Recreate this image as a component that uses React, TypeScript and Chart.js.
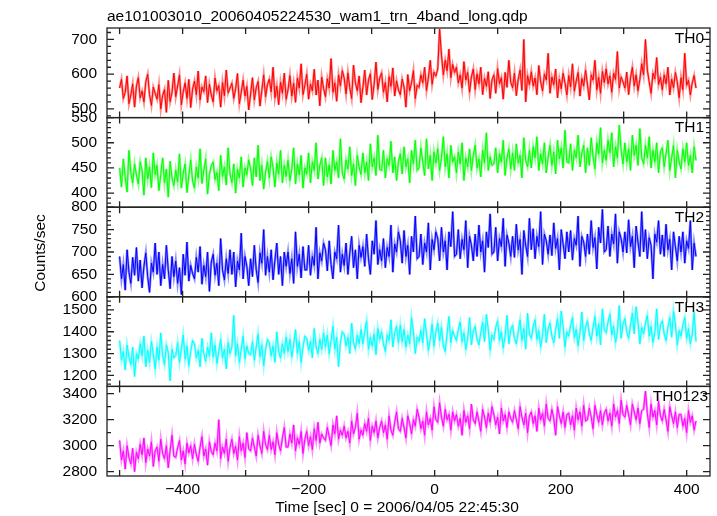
import React, { useEffect, useRef } from "react";
import { Chart, registerables } from "chart.js";

Chart.register(...registerables);

// Time bins (seconds relative to 2006/04/05 22:45:30)
const timeStart = -500;
const timeStep = 2.97;

const TH0 = [
  560, 585, 530, 548, 595, 515, 540, 572, 505, 566,
  590, 532, 551, 520, 578, 600, 541, 510, 563, 545,
  528, 570, 500, 539, 556, 490, 582, 521, 547, 603,
  535, 566, 598, 512, 549, 575, 530, 585, 504, 557,
  580, 541, 609, 526, 563, 550, 595, 518, 571, 540,
  520, 589, 552, 567, 505, 576, 538, 612, 546, 560,
  574, 530, 558, 602, 515, 548, 583, 537, 565, 497,
  543, 590, 526, 561, 579, 508, 553, 598, 535, 570,
  586, 549, 620, 532, 566, 512, 577, 545, 603, 528,
  555, 596, 537, 574, 519, 589, 560, 630, 541, 568,
  600, 528, 571, 552, 614, 540, 583, 509, 592, 559,
  535, 587, 560, 645, 548, 575, 522, 598, 566, 610,
  589, 543, 604, 561, 530, 626, 575, 552, 595, 518,
  562, 612, 540, 583, 601, 527, 570, 635, 556, 589,
  604, 548, 576, 520, 593, 565, 618, 537, 581, 555,
  541, 586, 563, 505, 599, 552, 575, 610, 530, 568,
  562, 598, 575, 620, 553, 589, 640, 571, 606, 595,
  615, 730, 655, 598, 640, 610, 672, 590, 628, 605,
  620, 575, 598, 560, 636, 583, 605, 548, 592, 615,
  556, 601, 572, 620, 541, 588, 565, 607, 530, 584,
  598, 545, 616, 573, 590, 528, 605, 562, 640, 577,
  561, 603, 538, 585, 612, 553, 700, 520, 596, 570,
  607, 566, 589, 541, 625, 578, 552, 600, 583, 660,
  545, 592, 570, 615, 532, 586, 558, 603, 575, 540,
  596, 563, 630, 551, 580, 605, 537, 588, 566, 612,
  570, 526, 598, 583, 640, 555, 591, 545, 608, 576,
  615, 572, 595, 548, 603, 585, 665, 560, 592, 578,
  560, 606, 541, 589, 620, 566, 598, 552, 585, 630,
  598, 700, 612, 578, 545, 603, 587, 648, 570, 592,
  555, 598, 572, 620, 540, 586, 561, 605, 578, 532,
  590, 555, 660, 568, 582, 540, 575, 596, 560,
];

const TH1 = [
  450, 412, 468, 431, 402, 485, 440, 420, 458, 436,
  418, 462, 445, 396, 470, 428, 452, 411, 480, 437,
  455, 405, 437, 470, 420, 448, 392, 463, 430, 415,
  446, 422, 478, 410, 440, 458, 401, 435, 466, 424,
  410, 452, 430, 488, 419, 445, 468, 398, 437, 455,
  462, 427, 441, 405, 475, 433, 452, 416, 490, 438,
  421, 458, 400, 447, 430, 472, 412, 450, 437, 466,
  448, 415, 470, 432, 495, 425, 455, 408, 441, 463,
  430, 472, 451, 412, 460, 438, 485, 420, 455, 433,
  465, 425, 447, 490, 418, 458, 436, 475, 410, 450,
  438, 480, 420, 462, 445, 500, 428, 455, 470, 415,
  470, 432, 456, 418, 485, 445, 462, 430, 508, 440,
  428, 466, 448, 492, 435, 458, 415, 475, 452, 437,
  480, 440, 462, 425, 498, 452, 470, 435, 515, 447,
  445, 485, 430, 468, 455, 503, 440, 472, 425, 462,
  478, 438, 492, 452, 468, 420, 485, 458, 505, 445,
  450, 490, 462, 435, 508, 448, 475, 425, 482, 460,
  488, 445, 470, 512, 452, 478, 430, 495, 462, 472,
  440, 482, 458, 500, 425, 470, 452, 488, 445, 475,
  495, 450, 468, 432, 485, 460, 520, 445, 472, 455,
  458, 490, 440, 478, 462, 505, 435, 470, 488, 448,
  480, 445, 498, 460, 475, 430, 510, 465, 452, 485,
  450, 492, 470, 512, 445, 478, 458, 500, 440, 472,
  495, 455, 482, 438, 505, 468, 490, 450, 525, 462,
  460, 498, 445, 485, 470, 515, 452, 480, 495, 440,
  490, 455, 510, 472, 448, 500, 478, 530, 460, 485,
  465, 505, 480, 520, 452, 492, 470, 535, 485, 458,
  500, 462, 488, 445, 515, 475, 495, 455, 528, 470,
  458, 495, 470, 512, 450, 485, 462, 500, 440, 482,
  490, 452, 478, 505, 445, 470, 495, 430, 485, 462,
  448, 488, 462, 500, 455, 475, 440, 492, 465,
];

const TH2 = [
  690, 640, 672, 615, 705, 655, 630, 688, 648, 710,
  635, 682, 620, 668, 698, 645, 610, 675, 655, 720,
  650, 700, 625, 672, 640, 715, 660, 618, 690, 645,
  680, 630, 665, 605, 695, 648, 722, 635, 670, 652,
  640, 688, 655, 712, 628, 670, 645, 700, 612, 678,
  695, 648, 675, 625, 730, 660, 638, 685, 652, 705,
  650, 700, 622, 680, 660, 742, 640, 690, 668, 625,
  685, 645, 715, 660, 632, 698, 675, 750, 648, 690,
  655, 705, 638, 682, 720, 650, 690, 625, 700, 668,
  700, 652, 685, 630, 745, 668, 695, 642, 712, 660,
  660, 715, 648, 690, 670, 755, 640, 698, 680, 720,
  705, 658, 725, 672, 640, 700, 685, 760, 655, 695,
  670, 720, 650, 698, 735, 665, 705, 640, 715, 688,
  712, 668, 740, 685, 650, 725, 695, 770, 672, 705,
  680, 730, 665, 710, 690, 760, 655, 718, 700, 745,
  725, 675, 748, 690, 715, 650, 735, 700, 780, 685,
  690, 740, 672, 720, 700, 765, 660, 728, 705, 745,
  730, 680, 755, 700, 725, 660, 745, 712, 790, 690,
  695, 750, 685, 728, 705, 770, 665, 735, 715, 680,
  740, 690, 760, 700, 725, 655, 745, 710, 785, 695,
  700, 755, 680, 730, 712, 775, 668, 738, 720, 690,
  735, 688, 762, 705, 728, 650, 748, 715, 690, 775,
  705, 752, 685, 735, 712, 790, 672, 740, 725, 695,
  738, 692, 765, 708, 730, 660, 750, 718, 685, 745,
  700, 748, 682, 730, 715, 780, 668, 735, 722, 690,
  740, 695, 770, 710, 732, 662, 755, 720, 795, 700,
  705, 758, 690, 740, 718, 785, 675, 745, 730, 700,
  745, 698, 772, 712, 735, 665, 758, 722, 690, 790,
  700, 750, 685, 732, 715, 640, 740, 722, 770, 695,
  738, 690, 762, 705, 728, 660, 745, 712, 680, 735,
  700, 745, 675, 725, 708, 770, 660, 720, 690,
];

const TH3 = [
  1360, 1270, 1310, 1225, 1340, 1285, 1250, 1330, 1195, 1300,
  1275, 1345, 1290, 1380, 1240, 1315, 1260, 1355, 1300, 1230,
  1330, 1270, 1395, 1290, 1250, 1340, 1305, 1175, 1320, 1280,
  1290, 1350, 1260, 1320, 1385, 1275, 1335, 1245, 1310, 1360,
  1345, 1280, 1315, 1240, 1370, 1300, 1265, 1330, 1290, 1395,
  1285, 1340, 1255, 1310, 1365, 1280, 1320, 1230, 1350, 1300,
  1330, 1475, 1290, 1345, 1260, 1320, 1380, 1275, 1335, 1300,
  1295, 1355, 1270, 1330, 1390, 1285, 1340, 1245, 1320, 1365,
  1350, 1290, 1335, 1260, 1400, 1310, 1280, 1345, 1300, 1375,
  1310, 1365, 1285, 1340, 1410, 1300, 1355, 1260, 1330, 1380,
  1370, 1315, 1355, 1280, 1415, 1330, 1300, 1365, 1320, 1395,
  1330, 1385, 1300, 1360, 1425, 1320, 1375, 1240, 1350, 1400,
  1390, 1335, 1375, 1300, 1440, 1350, 1320, 1385, 1345, 1410,
  1345, 1400, 1450, 1320, 1375, 1335, 1390, 1295, 1415, 1365,
  1400, 1345, 1310, 1385, 1360, 1455, 1330, 1395, 1425, 1350,
  1430, 1355, 1410, 1330, 1385, 1345, 1465, 1400, 1300, 1375,
  1355, 1405, 1350, 1460, 1390, 1315, 1365, 1435, 1335, 1400,
  1440, 1360, 1420, 1335, 1310, 1390, 1470, 1350, 1405, 1380,
  1360, 1410, 1445, 1355, 1395, 1320, 1370, 1465, 1340, 1405,
  1425, 1365, 1340, 1395, 1445, 1355, 1480, 1410, 1315, 1385,
  1365, 1420, 1450, 1360, 1400, 1325, 1380, 1475, 1345, 1410,
  1430, 1370, 1345, 1400, 1455, 1360, 1415, 1320, 1485, 1390,
  1370, 1425, 1455, 1365, 1405, 1330, 1385, 1480, 1350, 1415,
  1440, 1380, 1350, 1410, 1460, 1370, 1495, 1425, 1330, 1400,
  1380, 1430, 1465, 1372, 1412, 1335, 1395, 1490, 1360, 1420,
  1450, 1390, 1360, 1420, 1470, 1380, 1435, 1340, 1505, 1410,
  1395, 1445, 1480, 1385, 1425, 1350, 1400, 1520, 1370, 1435,
  1460, 1400, 1370, 1430, 1485, 1390, 1515, 1445, 1345, 1420,
  1390, 1440, 1475, 1380, 1425, 1350, 1395, 1505, 1365, 1430,
  1450, 1390, 1360, 1420, 1465, 1375, 1495, 1435, 1340, 1405,
  1380, 1430, 1465, 1370, 1415, 1345, 1390, 1490, 1355,
];

const TH0123 = [
  3040, 2890, 2960, 2820, 3000, 2910, 2860, 2980, 2800, 2950,
  2900, 3010, 2930, 3060, 2870, 2975, 2920, 3030, 2840, 2960,
  2990, 2880, 3050, 2940, 2900, 3000, 2830, 2965, 3080, 2920,
  2910, 2985, 3040, 2890, 2960, 2860, 3020, 2945, 3000, 2900,
  3010, 2930, 2880, 2990, 3070, 2920, 2975, 2850, 3030, 2955,
  2930, 3020, 2960, 3200, 2900, 2990, 2940, 3050, 2880, 2985,
  3050, 2940, 2995, 2890, 3070, 2960, 3020, 2910, 3100, 2975,
  2960, 3060, 2990, 2920, 3080, 3000, 2940, 3110, 3010, 2970,
  3080, 2970, 3030, 2930, 3100, 3010, 2960, 3060, 3140, 2990,
  2990, 3090, 3020, 3160, 2960, 3060, 3010, 3110, 2940, 3050,
  3110, 3000, 3070, 2970, 3130, 3040, 3180, 3020, 3090, 3060,
  3040, 3140, 3070, 3000, 3160, 3090, 3230, 3050, 3120, 3080,
  3150, 3060, 3110, 3020, 3190, 3090, 3140, 3250, 3050, 3120,
  3080, 3170, 3110, 3210, 3040, 3150, 3100, 3190, 3060, 3140,
  3190, 3100, 3160, 3050, 3230, 3120, 3080, 3180, 3260, 3130,
  3110, 3210, 3140, 3060, 3230, 3170, 3090, 3200, 3150, 3280,
  3220, 3130, 3190, 3080, 3260, 3160, 3210, 3120, 3300, 3200,
  3180, 3330, 3220, 3150, 3280, 3200, 3240, 3120, 3260, 3190,
  3240, 3150, 3210, 3080, 3270, 3180, 3230, 3130, 3320, 3200,
  3170, 3260, 3190, 3110, 3280, 3220, 3140, 3250, 3180, 3300,
  3240, 3160, 3220, 3090, 3290, 3190, 3240, 3140, 3260, 3210,
  3180, 3270, 3200, 3130, 3300, 3220, 3160, 3250, 3100, 3230,
  3260, 3170, 3230, 3110, 3290, 3200, 3250, 3150, 3320, 3210,
  3190, 3280, 3210, 3080, 3300, 3230, 3170, 3260, 3140, 3240,
  3250, 3160, 3230, 3120, 3290, 3200, 3260, 3150, 3310, 3190,
  3200, 3290, 3220, 3130, 3310, 3240, 3180, 3270, 3160, 3250,
  3280, 3190, 3250, 3150, 3320, 3220, 3270, 3170, 3350, 3240,
  3220, 3310, 3240, 3160, 3320, 3260, 3200, 3290, 3170, 3270,
  3280, 3420, 3250, 3140, 3320, 3220, 3270, 3160, 3340, 3230,
  3190, 3280, 3200, 3110, 3300, 3230, 3170, 3260, 3140, 3240,
  3240, 3150, 3210, 3100, 3270, 3180, 3230, 3120, 3190,
];

const panelNames = ["TH0", "TH1", "TH2", "TH3", "TH0123"];
const panelColors = ["#ff0000", "#00ff00", "#0000ff", "#00ffff", "#ff00ff"];
const panelHalo = [
  "rgba(255,0,0,0.45)",
  "rgba(0,255,0,0.45)",
  "rgba(0,0,255,0.45)",
  "rgba(0,255,255,0.45)",
  "rgba(255,0,255,0.45)",
];
const panelMin = [475, 372, 600, 1150, 2767];
const panelMax = [733, 550, 800, 1560, 3456];
const panelMajor = [
  [500, 600, 700],
  [400, 450, 500, 550],
  [600, 650, 700, 750, 800],
  [1200, 1300, 1400, 1500],
  [2800, 3000, 3200, 3400],
];
const panelMinorStep = [20, 10, 10, 20, 100];
const xTickLabels = [-400, -200, 0, 200, 400];
const xMinorStep = 100;

const title = "ae101003010_20060405224530_wam1_trn_4band_long.qdp";
const yTitle = "Counts/sec";
const xTitle = "Time [sec] 0 = 2006/04/05 22:45:30";

const FONT = "'Liberation Sans', Arial, Helvetica, sans-serif";
const FSIZE = 15.5;

export default function App() {
  const ref = useRef<HTMLCanvasElement | null>(null);

  useEffect(() => {
    if (!ref.current) return;
    const series = [TH0, TH1, TH2, TH3, TH0123];
    const times = TH0.map((_, i) => timeStart + i * timeStep);

    const datasets: any[] = [];
    series.forEach((vals, p) => {
      const pts = vals.map((v, i) => ({ x: times[i], y: v }));
      datasets.push({
        data: pts,
        yAxisID: "y" + p,
        borderColor: panelHalo[p],
        borderWidth: 2.4,
        pointRadius: 0,
        tension: 0,
        fill: false,
      });
      datasets.push({
        data: pts,
        yAxisID: "y" + p,
        borderColor: panelColors[p],
        borderWidth: 1,
        pointRadius: 0,
        tension: 0,
        fill: false,
      });
    });

    const scales: any = {
      x: {
        type: "linear",
        position: "bottom",
        min: -520,
        max: 437,
        grid: { display: false, drawTicks: false },
        border: { display: false },
        ticks: {
          font: { family: FONT, size: FSIZE },
          color: "#000",
          padding: 4,
          maxRotation: 0,
          autoSkip: false,
          callback: (v: any) =>
            Number(v) < 0 ? "\u2212" + Math.abs(Number(v)) : String(v),
        },
        afterBuildTicks: (s: any) => {
          s.ticks = xTickLabels.map((v) => ({ value: v }));
        },
        afterFit: (s: any) => {
          s.height = 40;
        },
      },
    };
    // bottom panel first so it is stacked lowest
    for (let p = 4; p >= 0; p--) {
      const major = panelMajor[p];
      scales["y" + p] = {
        type: "linear",
        position: "left",
        stack: "panels",
        stackWeight: 1,
        min: panelMin[p],
        max: panelMax[p],
        grid: { display: false, drawTicks: false },
        border: { display: false },
        ticks: {
          font: { family: FONT, size: FSIZE },
          color: "#000",
          padding: 10,
          autoSkip: false,
          callback: (v: any) => String(v),
        },
        afterBuildTicks: (s: any) => {
          s.ticks = major.map((v) => ({ value: v }));
        },
        afterFit: (s: any) => {
          s.width = 107;
        },
      };
    }

    const framePlugin = {
      id: "qdpFrame",
      afterDatasetsDraw(chart: any) {
        const ctx = chart.ctx;
        const area = chart.chartArea;
        const xs = chart.scales.x;
        ctx.save();
        ctx.strokeStyle = "#222";
        ctx.lineWidth = 1.3;
        for (let p = 0; p < 5; p++) {
          const s = chart.scales["y" + p];
          const top = s.top;
          const bottom = s.bottom;
          ctx.strokeRect(area.left, top, area.right - area.left, bottom - top);
          ctx.beginPath();
          for (
            let v = Math.ceil(panelMin[p] / panelMinorStep[p]) * panelMinorStep[p];
            v <= panelMax[p];
            v += panelMinorStep[p]
          ) {
            const y = s.getPixelForValue(v);
            const isMajor = panelMajor[p].includes(v);
            const len = isMajor ? 7 : 4;
            ctx.moveTo(area.left, y);
            ctx.lineTo(area.left + len, y);
            ctx.moveTo(area.right, y);
            ctx.lineTo(area.right - len, y);
          }
          for (let v = -500; v <= 400; v += xMinorStep) {
            const x = xs.getPixelForValue(v);
            ctx.moveTo(x, top);
            ctx.lineTo(x, top + 6);
            ctx.moveTo(x, bottom);
            ctx.lineTo(x, bottom - 6);
          }
          ctx.stroke();
        }
        ctx.fillStyle = "#000";
        ctx.font = FSIZE + "px " + FONT;
        ctx.textBaseline = "alphabetic";
        ctx.textAlign = "left";
        ctx.fillText(title, area.left, 21);
        ctx.textAlign = "center";
        ctx.fillText(xTitle, 397, 512);
        ctx.save();
        ctx.translate(41, 253);
        ctx.rotate(-Math.PI / 2);
        ctx.textBaseline = "middle";
        ctx.fillText(yTitle, 0, 0);
        ctx.restore();
        ctx.textAlign = "right";
        ctx.textBaseline = "middle";
        for (let p = 0; p < 5; p++) {
          const s = chart.scales["y" + p];
          const xr = p === 4 ? 708 : 704;
          ctx.fillText(panelNames[p], xr, s.top + 10.5);
        }
        ctx.restore();
      },
    };

    const chart = new Chart(ref.current, {
      type: "line",
      data: { datasets },
      options: {
        animation: false,
        responsive: true,
        maintainAspectRatio: false,
        layout: { padding: { left: 0, top: 28, right: 7, bottom: 0 } },
        plugins: {
          legend: { display: false },
          tooltip: { enabled: false },
          title: { display: false },
        },
        scales,
      },
      plugins: [framePlugin],
    } as any);

    return () => chart.destroy();
  }, []);

  return (
    <div
      style={{
        position: "fixed",
        left: 0,
        top: 0,
        width: 717,
        height: 516,
        background: "#fff",
      }}
    >
      <canvas ref={ref} />
    </div>
  );
}
